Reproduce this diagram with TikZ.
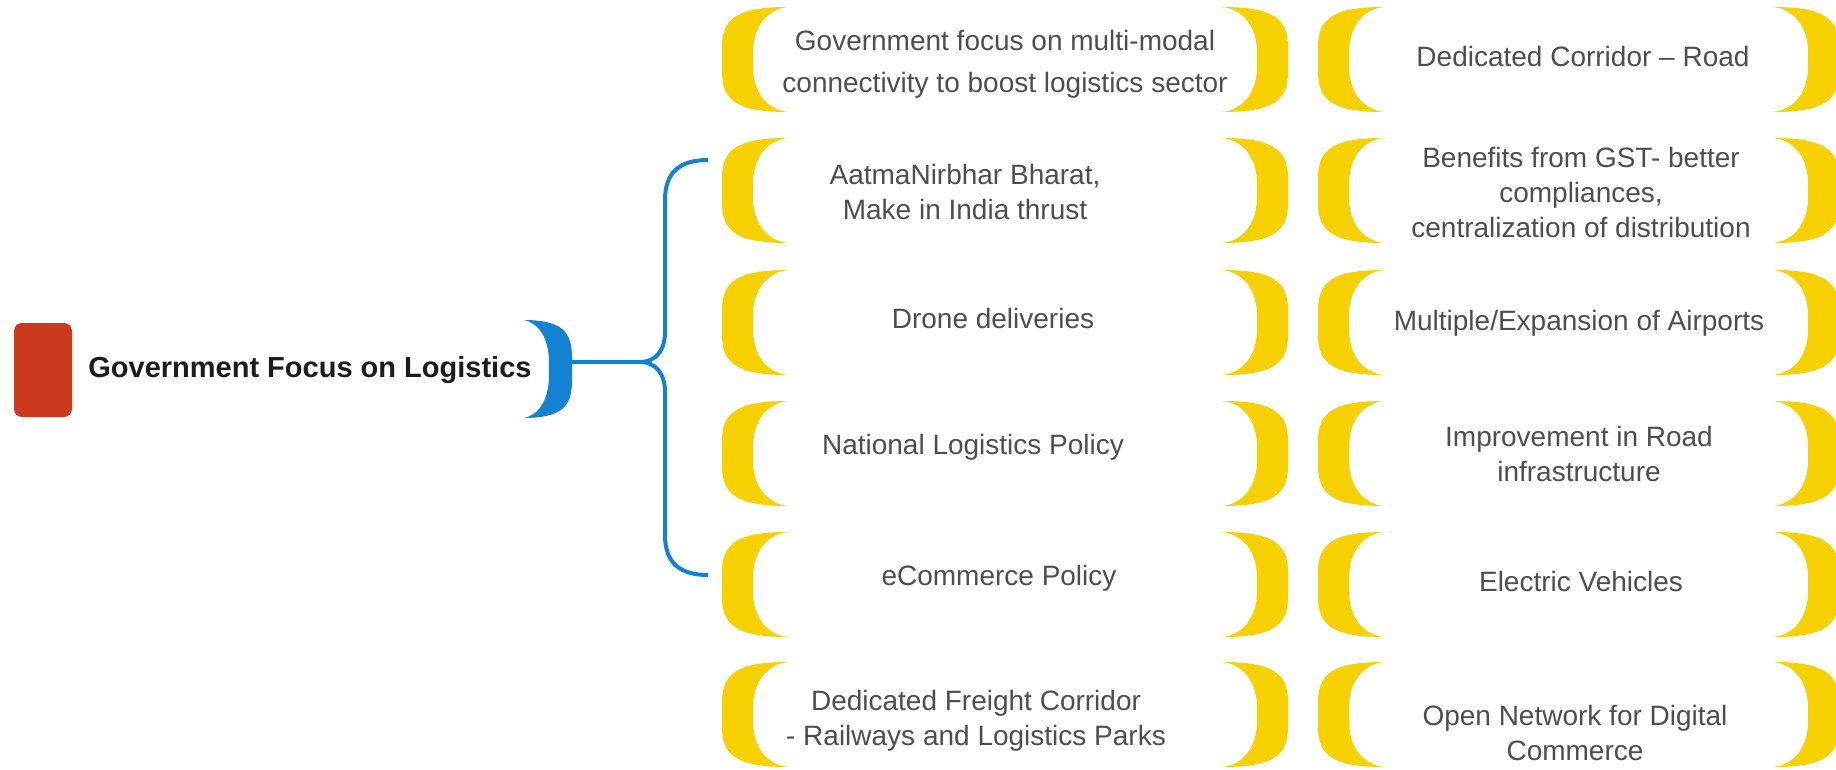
\documentclass[tikz,border=0pt]{standalone}
\usepackage{fontspec}
\setmainfont{Liberation Sans}

\definecolor{yel}{RGB}{247,208,0}
\definecolor{brblue}{RGB}{20,130,210}
\definecolor{brred}{RGB}{204,58,30}
\definecolor{txtgray}{RGB}{78,78,78}
\definecolor{headblack}{RGB}{28,28,28}

\tikzset{
    % полумесяц-скобка в единичном квадрате (y вниз)
    crescent/.pic={
        \fill ( 1, 0 ) .. controls ( 0.23, 0 ) and ( 0, 0.11 ) .. ( 0, 0.38 ) -- ( 0, 0.62 )
            .. controls ( 0, 0.89 ) and ( 0.23, 1 ) .. ( 1, 1 )
            .. controls ( 0.68, 0.98 ) and ( 0.47, 0.81 ) .. ( 0.47, 0.57 ) -- ( 0.47, 0.43 )
            .. controls ( 0.47, 0.19 ) and ( 0.68, 0.02 ) .. cycle;
    },
    item/.style={align=center, text=txtgray, inner sep=0pt,
        font=\fontsize{14}{17.5}\selectfont},
    headline/.style={anchor=west, text=headblack, inner sep=0pt,
        font=\bfseries\fontsize{14.5}{17}\selectfont},
}

\begin{document}
\begin{tikzpicture}[x=0.5pt, y=-0.5pt]
    \useasboundingbox ( 0, 0 ) rectangle ( 1836, 770 );

    % заголовок
    \node [fill=brred, rounded corners=4pt, minimum width=29pt, minimum height=47pt, inner sep=0pt] (mark) at ( 43, 370 ) {};
    \node [headline] (title) at ( 88, 370 ) {Government Focus on Logistics};

    % синяя скобка и фигурная скобка
    \pic [brblue, xscale=-49, yscale=98] at ( 572, 320 ) {crescent};
    \coordinate (knot) at ( 570, 362 );
    \coordinate (cusp) at ( 640, 362 );
    \draw [brblue, line width=2pt] (knot) -- (cusp);
    \draw [brblue, line width=2pt] ( 708, 160 ) .. controls ( 680, 160 ) and ( 665, 172 ) .. ( 665, 200 ) -- ( 665, 332 )
        .. controls ( 665, 350 ) and ( 656, 362 ) .. (cusp)
        .. controls ( 656, 362 ) and ( 665, 374 ) .. ( 665, 392 ) -- ( 665, 535 )
        .. controls ( 665, 563 ) and ( 680, 575 ) .. ( 708, 575 );

    % жёлтые скобки
    \foreach \ytop in {7, 138, 270, 401, 532, 662} {
        \pic [yel, xscale=66, yscale=105] at ( 722, \ytop ) {crescent};
        \pic [yel, xscale=-66, yscale=105] at ( 1288, \ytop ) {crescent};
        \pic [yel, xscale=66, yscale=105] at ( 1318, \ytop ) {crescent};
        \pic [yel, xscale=-66, yscale=105] at ( 1839, \ytop ) {crescent};
    }

    % левый столбец
    \node [item, font=\fontsize{14}{21}\selectfont] (l1) at ( 1005, 64 ) {Government focus on multi-modal\\connectivity to boost logistics sector};
    \node [item] (l2) at ( 965, 192 ) {AatmaNirbhar Bharat,\\Make in India thrust};
    \node [item] (l3) at ( 993, 318 ) {Drone deliveries};
    \node [item] (l4) at ( 973, 447 ) {National Logistics Policy};
    \node [item] (l5) at ( 999, 578 ) {eCommerce Policy};
    \node [item] (l6) at ( 976, 721 ) {Dedicated Freight Corridor\\- Railways and Logistics Parks};

    % правый столбец
    \node [item] (r1) at ( 1583, 56 ) {Dedicated Corridor -- Road};
    \node [item] (r2) at ( 1581, 192 ) {Benefits from GST- better\\compliances,\\centralization of distribution};
    \node [item] (r3) at ( 1579, 323 ) {Multiple/Expansion of Airports};
    \node [item] (r4) at ( 1579, 454 ) {Improvement in Road\\infrastructure};
    \node [item] (r5) at ( 1581, 581 ) {Electric Vehicles};
    \node [item] (r6) at ( 1575, 733 ) {Open Network for Digital\\Commerce};
\end{tikzpicture}
\end{document}
